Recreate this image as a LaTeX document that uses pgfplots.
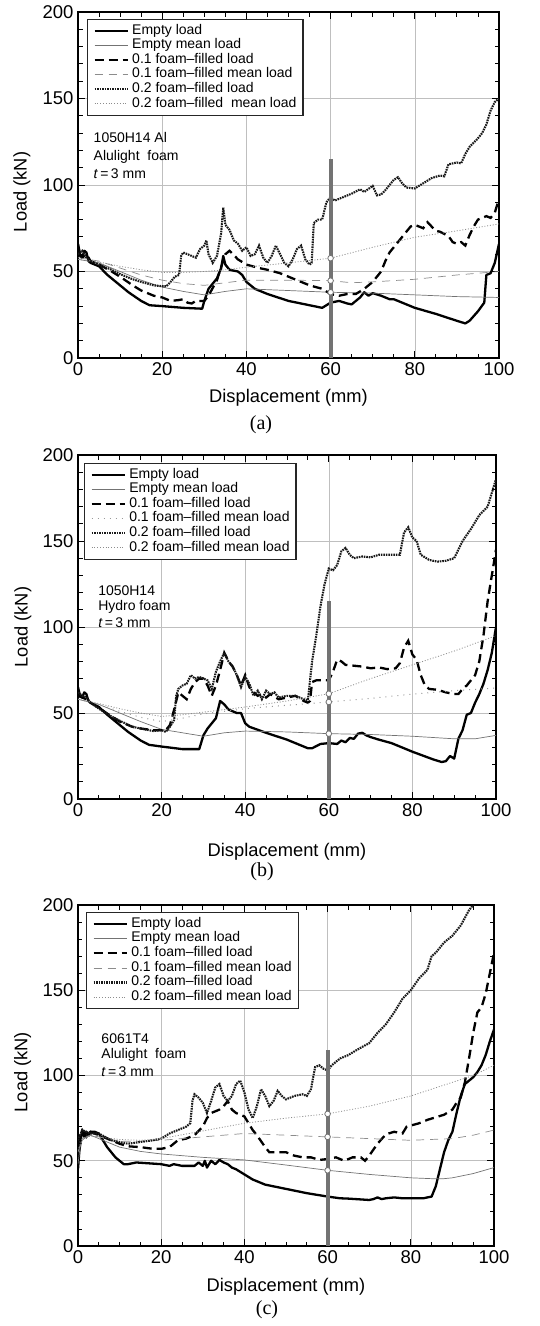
\documentclass[border=0pt]{standalone}
\usepackage{fontspec}
\setmainfont{Liberation Sans}
\newfontfamily\capfont{Liberation Serif}
\usepackage{pgfplots}
\pgfplotsset{compat=1.18}

\pgfplotsset{
  emptyload/.style={black, line width=2.3pt, line join=round},
  emptymean/.style={black!55, line width=0.7pt},
  foamA/.style={black, line width=2.3pt, dash pattern=on 9pt off 5pt},
  foamAmean/.style={black!45, line width=0.7pt, dash pattern=on 8pt off 6pt},
  foamAmeandots/.style={black!40, line width=1pt, dash pattern=on 1pt off 5pt},
  foamB/.style={black!90, line width=2.1pt, dash pattern=on 1.6pt off 0.9pt},
  foamBmean/.style={black!45, line width=0.8pt, dash pattern=on 1pt off 1.8pt},
  midbar/.style={black!55, line width=4.2pt, forget plot},
  midmarks/.style={only marks, mark=*, mark size=2.8pt,
    mark options={fill=white, draw=black!55, line width=0.8pt}, forget plot},
  loadaxis/.style={
    scale only axis,
    xmin=0, xmax=100, ymin=0, ymax=200,
    xtick={0,20,...,100}, ytick={0,50,...,200},
    minor x tick num=3, minor y tick num=4,
    tick align=inside,
    major tick length=7pt, minor tick length=4.5pt,
    every tick/.style={black, line width=0.9pt},
    grid=major,
    major grid style={black!25, line width=0.6pt},
    axis line style={line width=1.3pt},
    tick label style={font=\fontsize{18.5}{19}\selectfont},
    xticklabel style={yshift=-1pt},
    yticklabel style={xshift=-1pt},
    label style={font=\fontsize{18.3}{19}\selectfont},
    ylabel={Load (kN)},
    xlabel={Displacement (mm)},
    /pgf/number format/assume math mode=true,
    legend cell align=left,
    legend image code/.code={\draw[##1] (0pt,0pt) -- (33pt,0pt);},
    legend style={font=\fontsize{14}{14}\selectfont,
      draw=black!85, line width=1.2pt, fill=white,
      inner xsep=6pt, inner ysep=4pt, column sep=3pt,
      nodes={inner sep=0.5pt, text height=10pt, text depth=3.6pt},
      anchor=north west},
  },
}

\newcommand{\notefont}{\fontsize{14}{15}\selectfont}
\newcommand{\capsize}{\capfont\fontsize{20}{20}\selectfont}

\begin{document}
\begin{tikzpicture}
\path[use as bounding box] (0pt,0pt) rectangle (539pt,-1326pt);

% ---------------- (a) 1050H14 Al, Alulight foam ----------------
\begin{axis}[loadaxis, at={(78pt,-358pt)}, anchor=south west,
  width=421pt, height=346pt,
  xlabel style={at={(axis description cs:0.5,-0.115)}, anchor=center},
  ylabel style={at={(axis description cs:-0.133,0.48)}, anchor=center},
  legend style={at={(axis description cs:0.021,0.98)}}]
\addplot[emptyload] coordinates {
(0,66) (0.5,60) (1,58) (1.5,62) (2,61) (2.5,56) (3,55) (5,53) (7,48) (10,42)
(12,38) (15,33) (17,30.5) (20,30) (25,29) (29.5,28.5) (30,33) (31,40) (32,43)
(33,46) (34,52) (34.5,59) (35,54) (36,51) (38,50) (39,48) (40,44) (42,40)
(45,37) (50,33) (55,30.5) (58,29) (60,32) (62,33) (64,31.5) (65,31) (66,33)
(67,35) (68,38) (69,36) (70,37.5) (72,36) (74,34) (75,34) (78,31) (80,29)
(85,25.5) (90,21.5) (92,20) (93,21.5) (95,27) (96.5,32) (97,48) (98,49)
(99,55) (100,66)};
\addlegendentry{Empty load}
\addplot[emptymean] coordinates {
(0,57) (5,55) (10,50) (15,45) (20,41) (25,38.5) (30,36.5) (35,38.5) (40,40)
(45,39.5) (50,39) (60,38) (70,37.5) (80,36.5) (90,35.5) (100,35)};
\addlegendentry{Empty mean load}
\addplot[foamA] coordinates {
(0,60) (1,58) (2,60) (3,56) (5,54) (8,50) (10,47) (13,42) (15,39) (18,36)
(20,35) (22,33) (24,33.5) (25,34) (26,32) (27,31.5) (28,33) (30,33) (31,36)
(33,45) (35,60) (36,62) (38,57) (40,54) (43,52) (45,51) (48,49) (50,47)
(53,44) (55,42) (58,40) (60,37) (62,36) (64,37) (66,37) (68,40) (70,44)
(71,47) (72,50) (73,56) (74,61) (75,64) (76,67) (77,70) (78,73) (79,76)
(80,77) (81,76) (82,75) (83,78.5) (84,76) (85,73.5) (86,73) (88,70.5)
(89,67) (90,66) (91,67) (92,65) (93,71) (94,76) (95,80) (96,81) (97,82)
(98,81) (99,84) (100,92)};
\addlegendentry{0.1 foam–filled load}
\addplot[foamAmean] coordinates {
(0,58) (5,56) (10,52) (15,48) (20,45) (25,43) (30,42) (35,43.5) (40,45)
(50,45) (60,44.7) (65,43.5) (70,44) (80,45.5) (90,48) (100,50)};
\addlegendentry{0.1 foam–filled mean load}
\addplot[foamB] coordinates {
(0,60) (1,62) (2,58) (3,56) (5,54) (8,51) (10,48.5) (13,45.5) (15,44) (18,42)
(20,41.5) (21,41.5) (22,44) (23,47) (24,48) (24.5,59) (25,61) (26,60) (27,59)
(28,58) (29,63) (30,65) (30.5,68) (31,60) (32,55) (33,59) (34,72) (34.5,87)
(35,77) (36,74) (37,68) (38,66) (39,62) (40,64) (41,59) (42,60) (43,65)
(44,58) (45,55) (46,59) (47,65) (48,60) (49,55) (50,53) (51,57) (52,63)
(53,65) (54,57) (55,54) (55.5,55) (56,78) (57,80) (58,80) (59,90) (60,93)
(61,91) (62,92) (63,93) (65,95) (67,97.5) (68,96) (70,99.5) (71,94)
(72,94.5) (73,97) (75,103) (76,104.5) (77,101) (78,98.5) (80,98) (81,99.5)
(82,101) (84,104) (86,105.5) (87,105) (88,112) (90,113) (91,112.5) (92,118)
(93,122) (95,127) (96,130) (97,135) (98,143) (99,148) (100,150)};
\addlegendentry{0.2 foam–filled load}
\addplot[foamBmean] coordinates {
(0,57) (5,55.5) (10,53) (15,51) (20,49.5) (25,49.5) (30,50) (35,51)
(40,52.5) (50,55) (60,57.7) (70,64) (80,69.8) (90,73.5) (100,77.5)};
\addlegendentry{0.2 foam–filled\ \ mean load}
\addplot[midbar] coordinates {(60,0) (60,115)};
\addplot[midmarks] coordinates {(60,57.7) (60,44.7) (60,38)};
\node[anchor=base west, font=\notefont] at (axis cs:2.9,124.3) {1050H14 Al};
\node[anchor=base west, font=\notefont] at (axis cs:2.9,113.9) {Alulight\ \ foam};
\node[anchor=base west, font=\notefont] at (axis cs:2.9,104.0) {\textit{t}\,=\,3 mm};
\end{axis}
\node[font=\capsize] at (261pt,-425pt) {(a)};

% ---------------- (b) 1050H14, Hydro foam ----------------
\begin{axis}[loadaxis, at={(78pt,-799pt)}, anchor=south west,
  width=418pt, height=344pt,
  xlabel style={at={(axis description cs:0.5,-0.154)}, anchor=center},
  ylabel style={at={(axis description cs:-0.132,0.5)}, anchor=center},
  legend style={at={(axis description cs:0.014,0.977)}}]
\addplot[emptyload] coordinates {
(0,65) (0.5,60) (1,59) (1.5,62) (2,61) (2.5,57) (3,56) (5,53.5) (7,49) (10,43)
(12,39) (15,34) (17,31.5) (20,30.5) (25,29) (29,29) (30,37) (31,41) (32,44)
(33,47) (34,57) (35,55) (36,52) (38,50) (39,50) (40,44) (41,42) (45,38.5)
(50,34.5) (55,29.5) (56,29.5) (58,32) (60,32.5) (62,32) (63,34) (64,33)
(65,35.5) (66,35) (67,38) (68,38.5) (69,37) (70,36) (72,34.5) (75,32.5)
(80,27.5) (85,23) (87,21.5) (88,22) (89,25) (90,23.5) (91,35) (92,40)
(93,49) (94,50) (95,56) (96,61) (97,67) (98,75) (99,85) (100,100)};
\addlegendentry{Empty load}
\addplot[emptymean] coordinates {
(0,58) (5,55) (10,50) (15,45) (20,40.5) (25,38.5) (30,36.5) (35,38.5)
(40,39.5) (50,39) (60,38) (70,37.5) (80,36.5) (90,35) (95,35) (100,37)};
\addlegendentry{Empty mean load}
\addplot[foamA] coordinates {
(0,60) (1,59) (2,58) (3,56) (5,53) (8,48) (10,45) (13,42) (15,41) (18,40)
(20,40) (21,40) (22,43) (23,52) (24,62) (25,60) (26,58) (27,64) (28,68)
(29,70) (30,70) (31,66) (32,60) (33,66) (34,75) (35,85) (36,80) (37,77)
(38,72) (39,66) (40,72) (41,65) (42,62) (43,60) (44,61) (45,59) (46,61)
(48,58) (50,59) (52,60) (54,57) (55,56) (55.5,57) (56,68) (57,69) (59,69)
(60,69) (61,74) (62,81) (63,80) (64,78) (66,77.5) (68,77) (70,76) (72,76.5)
(74,75.5) (76,76) (77,79) (78,88) (79,92) (80,84) (81,81) (82,72) (83,66)
(84,64) (86,63.5) (88,62) (90,61) (91,61) (92,64) (93,66) (95,72) (96,80)
(97,95) (98,115) (99,130) (100,145)};
\addlegendentry{0.1 foam–filled load}
\addplot[foamAmeandots] coordinates {
(0,58) (5,55) (10,51) (15,47.5) (20,45) (25,47) (30,49.5) (40,52.5)
(50,54.5) (60,56.4) (70,58.5) (80,61) (90,63) (100,64.5)};
\addlegendentry{0.1 foam–filled mean load}
\addplot[foamB] coordinates {
(0,62) (1,60) (2,59) (3,56) (5,52.5) (8,48) (10,45.5) (13,42) (15,41)
(18,39.5) (20,40) (21,39) (22,42) (23,46) (23.5,60) (24,64) (25,66) (26,67)
(27,72) (28,70) (29,71) (30,70) (31,69) (32,64) (33,74) (34,80) (35,85)
(36,80) (37,77) (38,72) (39,65) (40,71) (41,67) (42,60) (43,63) (44,58)
(45,63) (46,61) (47,62) (48,59) (50,60) (52,60) (54,58) (55,57.5) (56,80)
(57,95) (58,112) (59,125) (60,134) (61,133) (62,136) (63,144) (64,146)
(65,142) (66,140) (68,141) (70,140.5) (72,142) (75,142) (77,142) (78,155)
(79,158) (80,152) (81,150) (82,142) (84,139) (86,138) (88,138.5) (90,140)
(92,150) (94,157) (96,165) (98,170) (99,178) (100,186)};
\addlegendentry{0.2 foam–filled load}
\addplot[foamBmean] coordinates {
(0,58) (5,55.5) (10,52.5) (15,50) (20,48) (25,49) (30,50.5) (40,53.5)
(50,57) (60,61.2) (70,70) (80,78) (90,86) (100,95)};
\addlegendentry{0.2 foam–filled mean load}
\addplot[midbar] coordinates {(60,0) (60,115)};
\addplot[midmarks] coordinates {(60,61.2) (60,56.4) (60,38)};
\node[anchor=base west, font=\notefont] at (axis cs:4,118.6) {1050H14};
\node[anchor=base west, font=\notefont] at (axis cs:4,109.6) {Hydro foam};
\node[anchor=base west, font=\notefont] at (axis cs:4,99.7) {\textit{t}\,=\,3 mm};
\end{axis}
\node[font=\capsize] at (262pt,-872pt) {(b)};

% ---------------- (c) 6061T4, Alulight foam ----------------
\begin{axis}[loadaxis, at={(78pt,-1246pt)}, anchor=south west,
  width=416pt, height=341pt,
  xlabel style={at={(axis description cs:0.5,-0.12)}, anchor=center},
  ylabel style={at={(axis description cs:-0.133,0.51)}, anchor=center},
  legend style={at={(axis description cs:0.019,0.979)}}]
\addplot[emptyload] coordinates {
(0,45) (0.3,55) (0.7,63) (1,68) (1.5,64) (2,67) (2.5,65) (3,67) (4,67) (5,66)
(6,62) (7,58) (8,55) (9,52) (10,50) (11,48) (12,48) (14,49) (17,48.5) (20,48)
(22,47) (23,48) (25,47) (28,47) (29,49) (30,47) (30.5,50) (31,46) (32,50)
(33,48) (34,50.5) (35,49) (36,48) (37,46) (38,45) (40,42) (42,39) (45,36)
(50,33.5) (55,31) (60,29) (63,28) (65,27.8) (70,27) (71,27.5) (72,28.5)
(73,27.5) (74,28) (76,28.5) (78,28) (80,28) (83,28) (85,29) (86,35) (87,45)
(88,55) (89,62) (90,67) (91,78) (92,88) (93,95) (94,97) (95,99) (96,102)
(97,106) (98,112) (99,120) (100,127)};
\addlegendentry{Empty load}
\addplot[emptymean] coordinates {
(0,48) (0.5,58) (1,62) (2,64) (3,65) (5,63) (10,58) (15,55.5) (20,54)
(30,52) (40,50.5) (50,47.5) (60,44.4) (70,42) (80,40) (85,39.5) (88,39.5)
(90,40) (95,42.5) (100,46)};
\addlegendentry{Empty mean load}
\addplot[foamA] coordinates {
(0,60) (0.5,66) (1,68) (2,64) (3,67) (4,66) (5,65) (8,62) (10,60) (12,58.5)
(15,58) (18,57) (20,57) (22,58) (24,62) (26,63) (28,65) (30,70) (31,75)
(32,78) (34,80) (35,82) (36,85) (37,80) (38,78) (40,76) (41,72) (42,68)
(43,65) (45,58) (46,55) (48,55) (50,55) (52,53) (54,52) (56,52) (58,50.5)
(60,51) (62,52) (64,50) (66,52) (68,52) (69,50) (70,53) (72,60) (74,65.5)
(76,67) (78,66) (79,70) (82,72) (84,74) (86,75.5) (88,77) (90,80) (91,84)
(92,87) (93,96) (94,110) (95,125) (96,137) (97,140) (98,148) (99,160)
(100,172)};
\addlegendentry{0.1 foam–filled load}
\addplot[foamAmean] coordinates {
(0,55) (1,63) (3,65) (5,64) (10,61.5) (15,61.5) (20,62) (30,64) (40,66)
(50,65) (60,64) (70,63) (80,62) (90,63) (95,65) (100,68)};
\addlegendentry{0.1 foam–filled mean load}
\addplot[foamB] coordinates {
(0,62) (1,68) (3,66) (5,66) (8,62) (10,61) (12,60) (15,61) (18,62) (20,63)
(22,66) (24,68) (26,70) (27,72) (27.5,85) (28,89) (29,87) (30,84) (31,78)
(32,85) (33,93) (34,95) (35,88) (36,85) (37,88) (38,95) (39,97) (40,90)
(41,80) (42,75) (43,82) (44,92) (45,88) (46,82) (47,85) (48,91) (49,88)
(50,86) (52,88) (54,89) (55,88) (56,92) (57,105) (58,106) (59,104) (60,103)
(61,106) (63,110) (65,112) (67,115) (70,119) (72,125) (74,130) (76,137)
(78,145) (80,150) (82,157) (84,162) (85,170) (86,172) (88,178) (90,182)
(92,188) (94,197) (95,200) (96,205)};
\addlegendentry{0.2 foam–filled load}
\addplot[foamBmean] coordinates {
(0,56) (1,63) (3,64.5) (5,64) (10,62.5) (15,62) (20,63) (30,67.5) (40,72)
(50,75) (60,77.5) (70,82) (80,88) (90,96) (95,100) (100,106)};
\addlegendentry{0.2 foam–filled mean load}
\addplot[midbar] coordinates {(60,0) (60,115)};
\addplot[midmarks] coordinates {(60,77.5) (60,64) (60,44.4)};
\node[anchor=base west, font=\notefont] at (axis cs:4.8,119) {6061T4};
\node[anchor=base west, font=\notefont] at (axis cs:4.8,109.7) {Alulight\ \ foam};
\node[anchor=base west, font=\notefont] at (axis cs:4.8,99.7) {\textit{t}\,=\,3 mm};
\end{axis}
\node[font=\capsize] at (267pt,-1310pt) {(c)};
\end{tikzpicture}
\end{document}
